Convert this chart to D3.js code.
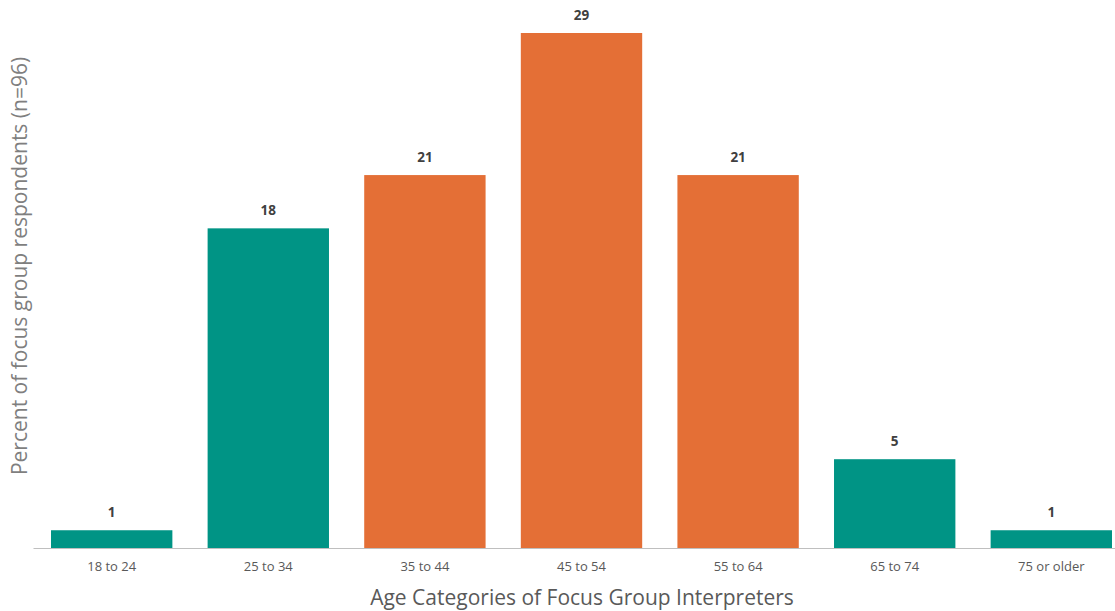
<!DOCTYPE html>
<html>
<head>
<meta charset="utf-8">
<script src="https://cdn.jsdelivr.net/npm/d3@7/dist/d3.min.js"></script>
<style>
  body { margin: 0; background: #fff; }
  svg { display: block; font-family: "Open Sans", sans-serif; }
</style>
</head>
<body>
<div id="chart"></div>
<script>
var categories = ['18 to 24', '25 to 34', '35 to 44', '45 to 54', '55 to 64', '65 to 74', '75 or older'];
var values     = [1, 18, 21, 29, 21, 5, 1];
var highlight  = [false, false, true, true, true, false, false];

var width = 1115, height = 611;
var baseY = 548, topY = 33;

var svg = d3.select('#chart').append('svg')
	.attr('width', width)
	.attr('height', height);

// band range runs past the right edge, as in the original
var x = d3.scaleBand()
	.domain(categories)
	.range([33, 1130])
	.paddingInner(0.225)
	.paddingOuter(0.115);

var y = d3.scaleLinear()
	.domain([0, 29])
	.range([baseY, topY]);

svg.selectAll('.bar')
	.data(values)
	.enter().append('rect')
		.attr('class', 'bar')
		.attr('x', function (d, i) { return x(categories[i]); })
		.attr('y', function (d) { return y(d); })
		.attr('width', x.bandwidth())
		.attr('height', function (d) { return baseY - y(d); })
		.attr('fill', function (d, i) { return highlight[i] ? '#E46F36' : '#009485'; });

svg.selectAll('.val')
	.data(values)
	.enter().append('text')
		.attr('class', 'val')
		.attr('x', function (d, i) { return x(categories[i]) + x.bandwidth() / 2; })
		.attr('y', function (d) { return y(d) - 13; })
		.attr('text-anchor', 'middle')
		.style('font-size', '13.5px')
		.style('font-weight', 'bold')
		.style('fill', '#404040')
		.text(function (d) { return d; });

var xAxis = svg.append('g')
	.attr('transform', 'translate(0,' + baseY + ')')
	.call(d3.axisBottom(x).tickSize(0).tickSizeOuter(0).tickPadding(14));

xAxis.select('.domain').attr('stroke', '#bfbfbf');
xAxis.selectAll('text')
	.style('font-family', '"Open Sans", sans-serif')
	.style('font-size', '13px')
	.style('fill', '#595959');

svg.append('text')
	.attr('x', 582)
	.attr('y', 605)
	.attr('text-anchor', 'middle')
	.style('font-size', '21px')
	.style('fill', '#595959')
	.text('Age Categories of Focus Group Interpreters');

svg.append('text')
	.attr('transform', 'translate(27,266) rotate(-90)')
	.attr('text-anchor', 'middle')
	.style('font-size', '21px')
	.style('fill', '#7f7f7f')
	.text('Percent of  focus group respondents (n=96)');
</script>
</body>
</html>
